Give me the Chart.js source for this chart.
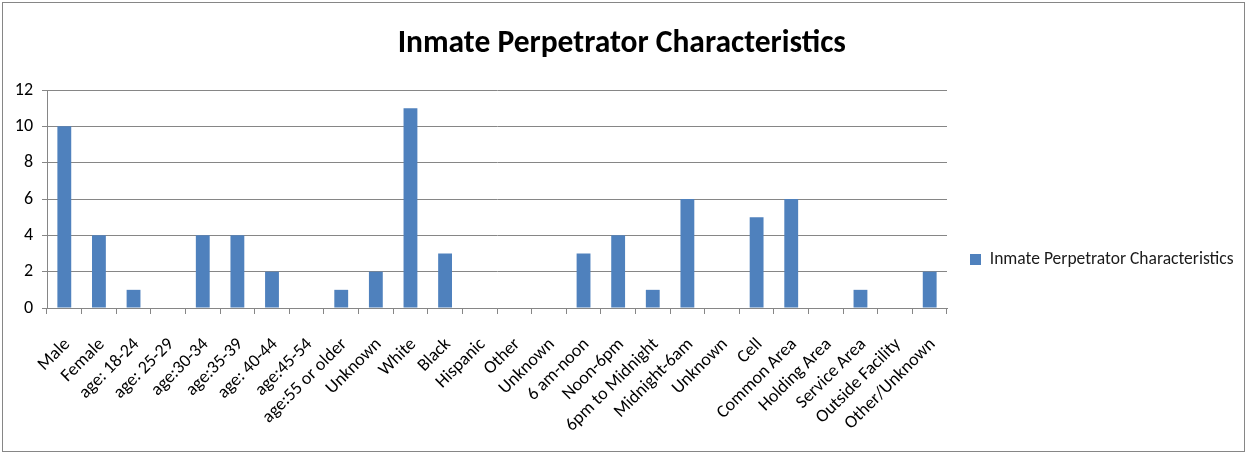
<!DOCTYPE html>
<html>
<head>
<meta charset="utf-8">
<script src="https://cdn.jsdelivr.net/npm/chart.js@4/dist/chart.umd.min.js"></script>
<style>
  html, body { margin: 0; padding: 0; background: #ffffff; }
  #wrap { width: 1247px; height: 453px; }
</style>
</head>
<body>
<div id="wrap"><canvas id="chart" width="1247" height="453"></canvas></div>
<script>
// Incident counts by perpetrator characteristic
const categories = [
  'Male', 'Female', 'age: 18-24', 'age: 25-29', 'age:30-34', 'age:35-39',
  'age: 40-44', 'age:45-54', 'age:55 or older', 'Unknown', 'White', 'Black',
  'Hispanic', 'Other', 'Unknown', '6 am-noon', 'Noon-6pm', '6pm to Midnight',
  'Midnight-6am', 'Unknown', 'Cell', 'Common Area', 'Holding Area',
  'Service Area', 'Outside Facility', 'Other/Unknown'
];
const counts = [10, 4, 1, 0, 4, 4, 2, 0, 1, 2, 11, 3, 0, 0, 0, 3, 4, 1, 6, 0, 5, 6, 0, 1, 0, 2];
const seriesName = 'Inmate Perpetrator Characteristics';
const chartTitle = 'Inmate Perpetrator Characteristics';
const yTicks = [0, 2, 4, 6, 8, 10, 12];

const FONT = 'Carlito, Lato, "Liberation Sans", sans-serif';
const GRID = '#868686';
const BAR = '#4F81BD';

// Layout constants
const W = 1247, H = 453;
const PLOT_LEFT = 47, PLOT_RIGHT = 947, PLOT_BOTTOM = 308;
const LEGEND_FONT = 17.5, LEGEND_BOX = 11, LEGEND_PAD = 23, LEGEND_SHIFT = 33;

// Size the right padding so the legend column starts where the plot ends
const mctx = document.createElement('canvas').getContext('2d');
mctx.font = LEGEND_FONT + 'px ' + FONT;
const legendTextW = mctx.measureText(seriesName).width;
const legendW = LEGEND_PAD + LEGEND_BOX + LEGEND_FONT / 2 + legendTextW + 10;
const padRight = Math.max(0, (W - PLOT_RIGHT) - legendW);

const frame = {
  id: 'frame',
  beforeDraw(chart) {
    const c = chart.ctx;
    c.save();
    c.fillStyle = '#ffffff';
    c.fillRect(0, 0, chart.width, chart.height);
    c.strokeStyle = GRID;
    c.lineWidth = 1;
    c.strokeRect(2.5, 2.5, chart.width - 5, chart.height - 4);
    c.restore();
  },
  afterLayout(chart) {
    // lower the legend entry a little below the vertical centre
    if (chart.legend) {
      chart.legend.top += LEGEND_SHIFT;
      chart.legend.bottom += LEGEND_SHIFT;
    }
  }
};

new Chart(document.getElementById('chart'), {
  type: 'bar',
  data: {
    labels: categories,
    datasets: [{
      label: seriesName,
      data: counts,
      backgroundColor: BAR,
      borderWidth: 0,
      categoryPercentage: 1.0,
      barPercentage: 0.4
    }]
  },
  options: {
    responsive: false,
    animation: false,
    devicePixelRatio: 1,
    layout: { padding: { left: 0, right: padRight, top: 0, bottom: 0 } },
    plugins: {
      title: {
        display: true,
        text: chartTitle,
        color: '#000000',
        font: { family: FONT, size: 31.5, weight: 'bold', lineHeight: 1.2 },
        padding: { top: 25, bottom: 27.2 }
      },
      legend: {
        display: true,
        position: 'right',
        align: 'center',
        labels: {
          color: '#1a1a1a',
          font: { family: FONT, size: LEGEND_FONT },
          boxWidth: LEGEND_BOX,
          boxHeight: LEGEND_BOX,
          padding: LEGEND_PAD
        }
      },
      tooltip: { enabled: false }
    },
    scales: {
      x: {
        offset: true,
        grid: {
          display: true,
          offset: true,
          drawOnChartArea: false,
          drawTicks: true,
          tickLength: 6,
          color: GRID
        },
        border: { display: true, color: GRID, width: 1 },
        ticks: {
          autoSkip: false,
          minRotation: 45,
          maxRotation: 45,
          padding: 20,
          labelOffset: 3,
          color: '#000000',
          font: { family: FONT, size: 18 }
        },
        afterFit(scale) { scale.height = H - PLOT_BOTTOM; }
      },
      y: {
        min: 0,
        max: 12,
        afterBuildTicks(scale) { scale.ticks = yTicks.map(v => ({ value: v })); },
        grid: {
          display: true,
          drawTicks: true,
          tickLength: 5,
          color: GRID,
          lineWidth: 1
        },
        border: { display: true, color: GRID, width: 1 },
        ticks: {
          padding: 9,
          color: '#000000',
          font: { family: FONT, size: 18 }
        },
        afterFit(scale) { scale.width = PLOT_LEFT; }
      }
    }
  },
  plugins: [frame]
});
</script>
</body>
</html>
